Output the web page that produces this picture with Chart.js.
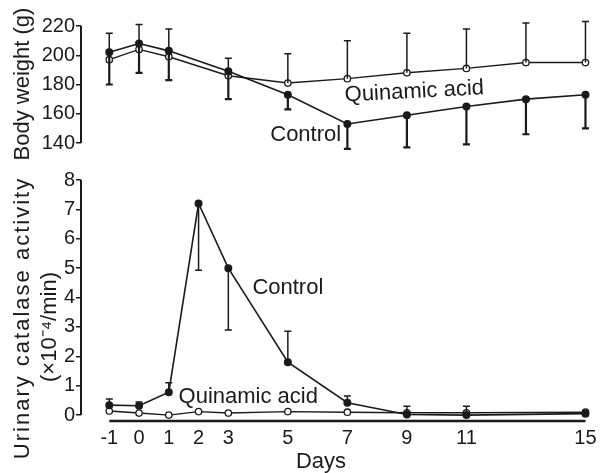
<!DOCTYPE html>
<html>
<head>
<meta charset="utf-8">
<script src="https://cdn.jsdelivr.net/npm/chart.js@4.4.0/dist/chart.umd.min.js"></script>
<style>
  body { margin: 0; background: #fff; }
  #wrap { position: relative; width: 600px; height: 473px; }
  canvas { position: absolute; left: 0; }
</style>
</head>
<body>
<div id="wrap">
  <canvas id="weightChart" width="600" height="160" style="top:0"></canvas>
  <canvas id="catalaseChart" width="600" height="313" style="top:160px"></canvas>
</div>
<script>
// ---- data ----
const weightDays = [-1, 0, 1, 3, 5, 7, 9, 11, 13, 15];
const controlWeight = [202, 208, 203, 189, 173, 153, 159, 165, 170, 173];
const controlWeightLow = [180, 188, 183, 170, 163, 136, 137, 139, 146, 150];
const quinamicWeight = [197, 204, 199, 186, 181, 184, 188, 191, 195, 195];
const quinamicWeightHigh = [215, 221, 218, 198, 201, 210, 215, 218, 222, 223];
const weightTicks = [140, 160, 180, 200, 220];

const catalaseDays = [-1, 0, 1, 2, 3, 5, 7, 9, 11, 15];
const controlCatalase = [0.34, 0.32, 0.78, 7.2, 5.0, 1.8, 0.42, 0.02, 0.0, 0.05];
const controlCatalaseErr = [0.55, 0.45, 1.1, 4.93, 2.9, 2.85, 0.65, 0.3, 0.3, null];
const quinamicCatalase = [0.14, 0.07, 0.0, 0.12, 0.07, 0.12, 0.1, 0.08, 0.08, 0.1];
const catalaseTicks = [0, 1, 2, 3, 4, 5, 6, 7, 8];
const dayTicks = [-1, 0, 1, 2, 3, 5, 7, 9, 11, 15];

const INK = "#1a1a1a";
const FONT = "Liberation Sans, Arial, sans-serif";
Chart.defaults.font.family = FONT;
Chart.defaults.color = INK;

function pts(xs, ys) {
    return xs.map((x, i) => ({ x: x, y: ys[i] }));
}

// error whiskers: dataset.errEnds holds the far end of each bar
const errorBars = {
    id: "errorBars",
    afterDatasetsDraw(chart) {
        const ctx = chart.ctx;
        const y = chart.scales.y;
        chart.data.datasets.forEach((ds, i) => {
            if (!ds.errEnds) return;
            const meta = chart.getDatasetMeta(i);
            ctx.save();
            ctx.strokeStyle = INK;
            ctx.lineWidth = ds.errWidth || 1.5;
            meta.data.forEach((p, j) => {
                const e = ds.errEnds[j];
                if (e == null) return;
                const ye = y.getPixelForValue(e);
                ctx.beginPath();
                ctx.moveTo(p.x, p.y);
                ctx.lineTo(p.x, ye);
                ctx.moveTo(p.x - 3.5, ye);
                ctx.lineTo(p.x + 3.5, ye);
                ctx.stroke();
            });
            ctx.restore();
        });
    }
};

// free text: labels placed in data coordinates or fixed titles
function textPlugin(items) {
    return {
        id: "texts",
        afterDraw(chart) {
            const ctx = chart.ctx;
            const xs = chart.scales.x, ys = chart.scales.y;
            items.forEach(t => {
                const px = t.day != null ? xs.getPixelForValue(t.day) : t.px;
                const py = t.val != null ? ys.getPixelForValue(t.val) : t.py;
                ctx.save();
                ctx.translate(px, py);
                ctx.rotate((t.rot || 0) * Math.PI / 180);
                ctx.font = (t.size || 22) + "px " + FONT;
                ctx.letterSpacing = (t.spacing || 0) + "px";
                ctx.fillStyle = INK;
                ctx.textAlign = "center";
                ctx.textBaseline = "middle";
                ctx.fillText(t.text, 0, 0);
                ctx.restore();
            });
        }
    };
}

// axis lines that stop at the data range, like the original
function axisLines(yFrom, yTo, xLine) {
    return {
        id: "axisLines",
        afterDraw(chart) {
            const ctx = chart.ctx;
            const xs = chart.scales.x, ys = chart.scales.y;
            ctx.save();
            ctx.strokeStyle = INK;
            ctx.lineWidth = 2;
            ctx.beginPath();
            ctx.moveTo(chart.chartArea.left, ys.getPixelForValue(yFrom));
            ctx.lineTo(chart.chartArea.left, ys.getPixelForValue(yTo));
            ctx.stroke();
            if (xLine) {
                ctx.lineWidth = 2.5;
                ctx.beginPath();
                ctx.moveTo(xs.getPixelForValue(-1), chart.chartArea.bottom);
                ctx.lineTo(xs.getPixelForValue(15), chart.chartArea.bottom);
                ctx.stroke();
            }
            ctx.restore();
        }
    };
}

const controlStyle = {
    borderColor: INK, borderWidth: 1.6,
    pointRadius: 3.2, pointBackgroundColor: INK, pointBorderColor: INK,
    tension: 0
};
const quinamicStyle = {
    borderColor: INK, borderWidth: 1.4,
    pointRadius: 3.2, pointBackgroundColor: "#fff", pointBorderColor: INK, pointBorderWidth: 1.3,
    tension: 0
};

function yAxis(min, max, ticks) {
    return {
        type: "linear", min: min, max: max,
        afterFit: s => { s.width = 81; },
        afterBuildTicks: s => { s.ticks = ticks.map(v => ({ value: v })); },
        border: { display: false },
        grid: { drawOnChartArea: false, color: INK, tickLength: 5, lineWidth: 1.5 },
        ticks: { padding: 1, font: { size: 20 }, color: INK }
    };
}

// BODY WEIGHT
new Chart(document.getElementById("weightChart"), {
    type: "line",
    data: {
        datasets: [
            Object.assign({ data: pts(weightDays, controlWeight), errEnds: controlWeightLow, errWidth: 2.2 }, controlStyle),
            Object.assign({ data: pts(weightDays, quinamicWeight), errEnds: quinamicWeightHigh }, quinamicStyle)
        ]
    },
    options: {
        responsive: false,
        animation: false,
        layout: { padding: { top: 26, bottom: 17, left: 0, right: 0 } },
        plugins: { legend: { display: false }, tooltip: { enabled: false } },
        scales: {
            x: { type: "linear", min: -1.95, max: 15.3, display: false },
            y: yAxis(140, 220, weightTicks)
        }
    },
    plugins: [errorBars, axisLines(140, 220, false), textPlugin([
        { text: "Body weight (g)", px: 23, py: 84, rot: -90 },
        { text: "Quinamic acid", day: 9.25, val: 175, rot: -3 },
        { text: "Control", day: 5.6, val: 145.5 }
    ])]
});

// URINARY CATALASE
new Chart(document.getElementById("catalaseChart"), {
    type: "line",
    data: {
        datasets: [
            Object.assign({ data: pts(catalaseDays, controlCatalase), errEnds: controlCatalaseErr }, controlStyle),
            Object.assign({ data: pts(catalaseDays, quinamicCatalase) }, quinamicStyle)
        ]
    },
    options: {
        responsive: false,
        animation: false,
        layout: { padding: { top: 20, bottom: 0, left: 0, right: 0 } },
        plugins: { legend: { display: false }, tooltip: { enabled: false } },
        scales: {
            x: {
                type: "linear", min: -1.95, max: 15.3,
                afterFit: s => { s.height = 52; },
                afterBuildTicks: s => { s.ticks = dayTicks.map(v => ({ value: v })); },
                border: { display: false },
                grid: { display: false },
                ticks: { padding: -3, font: { size: 20 }, color: INK, maxRotation: 0, autoSkip: false }
            },
            y: yAxis(-0.2, 8, catalaseTicks)
        }
    },
    plugins: [errorBars, axisLines(0, 8, true), textPlugin([
        { text: "Urinary catalase activity", px: 23, py: 158, rot: -90, spacing: 2 },
        { text: "(\u00d710\u207b\u2074/min)", px: 50, py: 167, rot: -90 },
        { text: "Days", px: 321, py: 302 },
        { text: "Control", day: 5.0, val: 4.33 },
        { text: "Quinamic acid", day: 3.67, val: 0.62 }
    ])]
});
</script>
</body>
</html>
